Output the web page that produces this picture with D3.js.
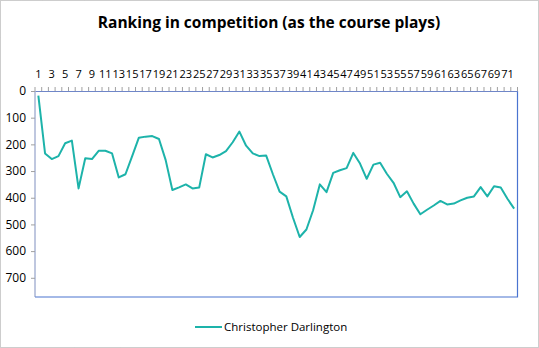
<!DOCTYPE html>
<html>
<head>
<meta charset="utf-8">
<script src="https://cdn.jsdelivr.net/npm/d3@7"></script>
<style>
  body { margin: 0; background: #fff; }
  text { font-family: "Open Sans", "Noto Sans", sans-serif; fill: #000; }
</style>
</head>
<body>
<div id="chart"></div>
<script>
// data
const categories = d3.range(1, 73);
const seriesName = "Christopher Darlington";
const ranking = [
  17, 234, 255, 244, 196, 186, 365, 252, 255, 224,
  224, 234, 324, 312, 244, 175, 171, 169, 180, 259,
  371, 361, 350, 365, 362, 237, 249, 240, 225, 192,
  152, 205, 234, 244, 242, 312, 377, 395, 475, 547,
  519, 447, 350, 379, 307, 297, 289, 232, 272, 329,
  276, 269, 310, 344, 398, 376, 422, 462, 445, 429,
  412, 425, 422, 410, 400, 395, 360, 395, 357, 362,
  404, 441
];
const yTicks = [0, 100, 200, 300, 400, 500, 600, 700];
const xLabels = categories.filter(d => d % 2 === 1);

// constants
const width = 539, height = 348;
const plot = {left: 35, top: 91, right: 517.5, bottom: 297};
const lineColor = "#1db3aa";
const frameColor = "#4a74d0";

const svg = d3.select("#chart")
  .append("svg")
  .attr("width", width)
  .attr("height", height);

// outer dotted chart frame
svg.append("rect")
  .attr("x", 0.5).attr("y", 0.5)
  .attr("width", width - 1).attr("height", height - 1)
  .attr("fill", "#fff")
  .attr("stroke", "#9a9a9a")
  .attr("stroke-dasharray", "1,1");

// title
svg.append("text")
  .attr("x", 269)
  .attr("y", 28)
  .attr("text-anchor", "middle")
  .attr("font-size", "15.5px")
  .attr("font-weight", "bold")
  .text("Ranking in competition (as the course plays)");

// scales
const x = d3.scaleBand()
  .domain(categories)
  .range([plot.left, plot.right]);

const y = d3.scaleLinear()
  .domain([0, 772])
  .range([plot.top, plot.bottom]);

// plot area border (right + bottom)
svg.append("path")
  .attr("d", `M${plot.right},${plot.top}V${plot.bottom}H${plot.left}`)
  .attr("fill", "none")
  .attr("stroke", frameColor)
  .attr("stroke-width", 1.2);

// top category axis
const xAxis = svg.append("g")
  .attr("transform", `translate(0,${plot.top})`)
  .call(d3.axisTop(x).tickValues(xLabels).tickSize(0).tickPadding(13));
xAxis.select(".domain")
  .attr("stroke", "#6f86c8");
xAxis.selectAll("text")
  .attr("font-size", "11px")
  .attr("font-family", "'Open Sans', sans-serif");

// small tick marks between categories
svg.append("g")
  .selectAll("line")
  .data(categories.concat([73]))
  .join("line")
  .attr("x1", d => d <= 72 ? x(d) : plot.right)
  .attr("x2", d => d <= 72 ? x(d) : plot.right)
  .attr("y1", plot.top)
  .attr("y2", plot.top - 4)
  .attr("stroke", "#a0a0a0");

// left value axis
const yAxis = svg.append("g")
  .attr("transform", `translate(${plot.left},0)`)
  .call(d3.axisLeft(y).tickValues(yTicks).tickSize(4).tickPadding(5));
yAxis.select(".domain")
  .attr("d", `M0,${plot.top}V${plot.bottom}`)
  .attr("stroke", "#7f8fbf");
yAxis.selectAll(".tick line").attr("stroke", "#a0a0a0");
yAxis.selectAll("text")
  .attr("font-size", "12px")
  .attr("font-family", "'Open Sans', sans-serif");

// line
const line = d3.line()
  .x((d, i) => x(categories[i]) + x.bandwidth() / 2)
  .y(d => y(d));

svg.append("path")
  .datum(ranking)
  .attr("d", line)
  .attr("fill", "none")
  .attr("stroke", lineColor)
  .attr("stroke-width", 2)
  .attr("stroke-linejoin", "round");

// legend
const legend = svg.append("g")
  .attr("transform", "translate(195,327)");
legend.append("line")
  .attr("x1", 0).attr("x2", 27)
  .attr("stroke", lineColor)
  .attr("stroke-width", 2);
legend.append("text")
  .attr("x", 29)
  .attr("y", 4)
  .attr("font-size", "11.5px")
  .text(seriesName);
</script>
</body>
</html>
